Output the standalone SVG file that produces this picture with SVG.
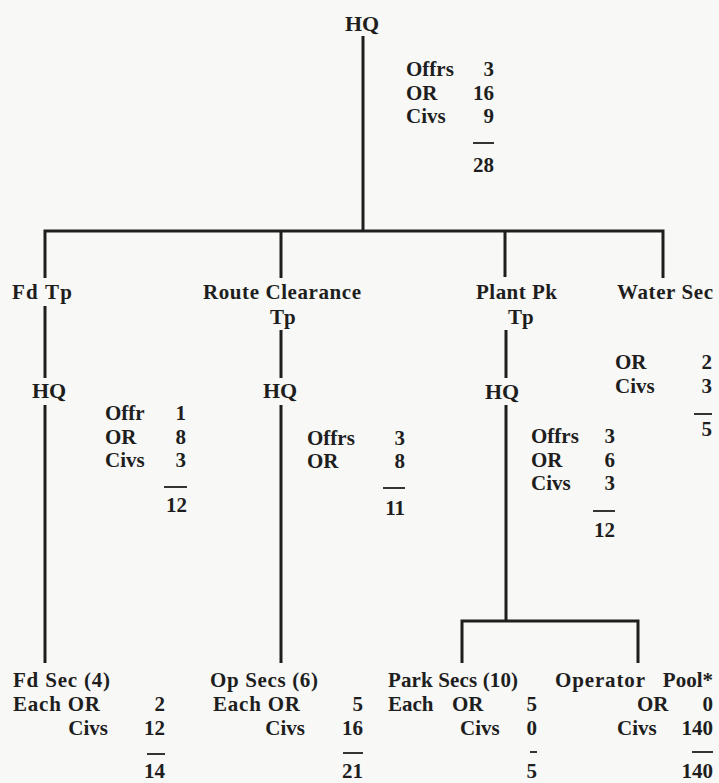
<svg xmlns="http://www.w3.org/2000/svg" width="719" height="783" viewBox="0 0 719 783">
<style>
text{font-family:"Liberation Serif","Times New Roman",serif;font-weight:bold;font-size:21px;fill:#1e1e1e}
.n{text-anchor:end}
.c{fill:none;stroke:#1e1e1e;stroke-width:3;stroke-linecap:butt;stroke-linejoin:miter}
.r{stroke:#1e1e1e;stroke-width:1.8}
</style>
<rect x="0" y="0" width="719" height="783" fill="#f8f8f6"/>
<g id="connectors">
<path class="c" d="M363,36 V231"/>
<path class="c" d="M45,278 V231 H663 V278"/>
<path class="c" d="M281,231 V278"/>
<path class="c" d="M505,231 V277"/>
<path class="c" d="M45,306 V378"/>
<path class="c" d="M45,405 V663"/>
<path class="c" d="M281,330 V378"/>
<path class="c" d="M281,405 V663"/>
<path class="c" d="M506,330 V378"/>
<path class="c" d="M506,405 V621"/>
<path class="c" d="M462,663 V621 H638 V663"/>
</g>
<g id="hq">
<text x="345" y="31" style="font-size:22px">HQ</text>
<text x="406" y="76">Offrs</text><text class="n" x="494" y="76">3</text>
<text x="406" y="99.5">OR</text><text class="n" x="494" y="99.5">16</text>
<text x="406" y="123">Civs</text><text class="n" x="494" y="123">9</text>
<line class="r" x1="473" y1="143" x2="494" y2="143"/>
<text class="n" x="494" y="172">28</text>
</g>
<g id="fd-tp">
<text x="12" y="299" textLength="60" lengthAdjust="spacing">Fd Tp</text>
<text x="32" y="398" style="font-size:22px">HQ</text>
<text x="105" y="420">Offr</text><text class="n" x="186" y="420">1</text>
<text x="105" y="443.5">OR</text><text class="n" x="186" y="443.5">8</text>
<text x="105" y="467">Civs</text><text class="n" x="186" y="467">3</text>
<line class="r" x1="164" y1="487" x2="187" y2="487"/>
<text class="n" x="187" y="512">12</text>
</g>
<g id="route-clearance-tp">
<text x="203" y="299" textLength="158" lengthAdjust="spacing">Route Clearance</text>
<text x="270" y="324">Tp</text>
<text x="263" y="398" style="font-size:22px">HQ</text>
<text x="307" y="444.5">Offrs</text><text class="n" x="405" y="444.5">3</text>
<text x="307" y="468">OR</text><text class="n" x="405" y="468">8</text>
<line class="r" x1="383" y1="488" x2="405" y2="488"/>
<text class="n" x="405" y="515">11</text>
</g>
<g id="plant-pk-tp">
<text x="476" y="299" textLength="81" lengthAdjust="spacing">Plant Pk</text>
<text x="508" y="324">Tp</text>
<text x="485" y="399" style="font-size:22px">HQ</text>
<text x="531" y="443">Offrs</text><text class="n" x="615" y="443">3</text>
<text x="531" y="466.5">OR</text><text class="n" x="615" y="466.5">6</text>
<text x="531" y="490">Civs</text><text class="n" x="615" y="490">3</text>
<line class="r" x1="593" y1="511" x2="615" y2="511"/>
<text class="n" x="615" y="537">12</text>
</g>
<g id="water-sec">
<text x="617" y="299" textLength="96" lengthAdjust="spacing">Water Sec</text>
<text x="615" y="369">OR</text><text class="n" x="712" y="369">2</text>
<text x="615" y="393">Civs</text><text class="n" x="712" y="393">3</text>
<line class="r" x1="694" y1="414" x2="712" y2="414"/>
<text class="n" x="712" y="436">5</text>
</g>
<g id="fd-sec">
<text x="13" y="687" textLength="97" lengthAdjust="spacing">Fd Sec (4)</text>
<text x="13" y="711" textLength="87" lengthAdjust="spacing">Each OR</text><text class="n" x="165" y="711">2</text>
<text class="n" x="108" y="735">Civs</text><text class="n" x="165" y="735">12</text>
<line class="r" x1="147" y1="754" x2="165" y2="754"/>
<text class="n" x="165" y="778">14</text>
</g>
<g id="op-secs">
<text x="210" y="687" textLength="108" lengthAdjust="spacing">Op Secs (6)</text>
<text x="213" y="711" textLength="87" lengthAdjust="spacing">Each OR</text><text class="n" x="363" y="711">5</text>
<text class="n" x="305" y="735">Civs</text><text class="n" x="363" y="735">16</text>
<line class="r" x1="343" y1="753" x2="363" y2="753"/>
<text class="n" x="363" y="778">21</text>
</g>
<g id="park-secs">
<text x="388" y="687" textLength="130" lengthAdjust="spacing">Park Secs (10)</text>
<text x="388" y="711">Each</text><text x="452" y="711">OR</text><text class="n" x="537" y="711">5</text>
<text x="460" y="735">Civs</text><text class="n" x="537" y="735">0</text>
<line class="r" x1="530" y1="752" x2="537" y2="752"/>
<text class="n" x="537" y="778">5</text>
</g>
<g id="operator-pool">
<text x="555" y="687" textLength="90" lengthAdjust="spacing">Operator</text><text class="n" x="713" y="687">Pool*</text>
<text x="637" y="711">OR</text><text class="n" x="713" y="711">0</text>
<text x="617" y="735">Civs</text><text class="n" x="713" y="735">140</text>
<line class="r" x1="692" y1="752" x2="713" y2="752"/>
<text class="n" x="713" y="778">140</text>
</g>
</svg>
